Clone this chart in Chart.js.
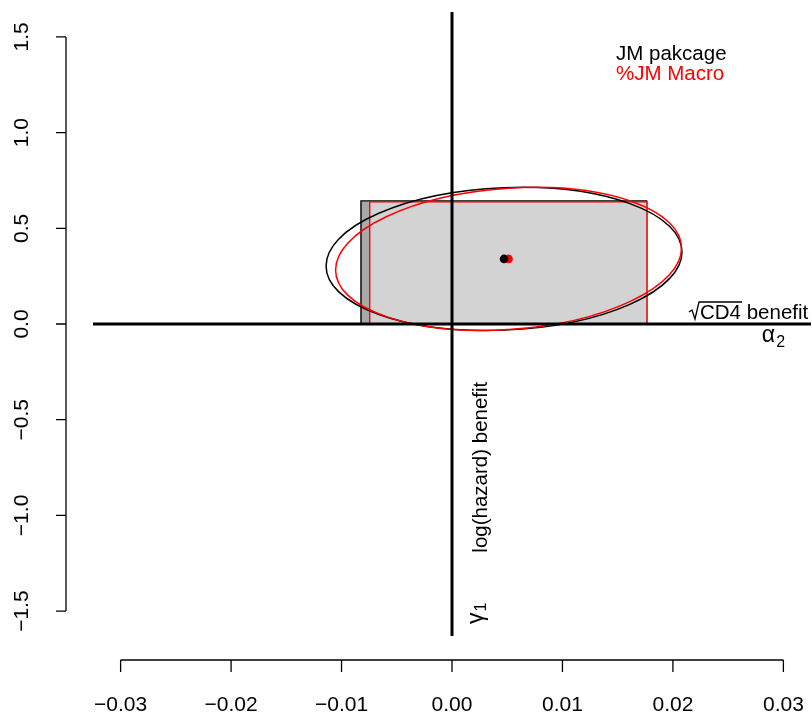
<!DOCTYPE html>
<html>
<head>
<meta charset="utf-8">
<script src="https://cdn.jsdelivr.net/npm/chart.js@4.4.1/dist/chart.umd.min.js"></script>
<style>
html,body{margin:0;padding:0;background:#fff;}
#wrap{width:812px;height:720px;position:relative;}
</style>
</head>
<body>
<div id="wrap"><canvas id="c" width="812" height="720"></canvas></div>
<script>
// ---- data ----
const xTicks = [-0.03, -0.02, -0.01, 0, 0.01, 0.02, 0.03];
const xTickLabels = ["\u22120.03", "\u22120.02", "\u22120.01", "0.00", "0.01", "0.02", "0.03"];
const yTicks = [-1.5, -1.0, -0.5, 0, 0.5, 1.0, 1.5];
const yTickLabels = ["\u22121.5", "\u22121.0", "\u22120.5", "0.0", "0.5", "1.0", "1.5"];
const xLimits = [-0.0325, 0.0325];
const yLimits = [-1.63, 1.63];
const seriesNames = ["JM pakcage", "%JM Macro"];
const estAlpha2 = [0.00471, 0.00512];
const estGamma1 = [0.340, 0.340];
const rectLeft = [-0.00824, -0.00745];
const rectRight = [0.01762, 0.01765];
const rectTop = [0.643, 0.638];
// ellipse conjugate semi-axes (data units): a = (ellAx, ellAy), b = (0, ellBy)
const ellAx = [0.01611, 0.01566];
const ellAy = [0.0366, 0.0575];
const ellBy = [0.372, 0.369];
const xLabelParts = ["CD4", "benefit"];
const yLabelText = "log(hazard) benefit";

// ---- styles ----
const FONT = '"Liberation Sans", Arial, Helvetica, sans-serif';
const fnt = px => px + 'px ' + FONT;
const seriesColors = ['#000000', '#FF0000'];
const rectFills = ['#A9A9A9', '#D3D3D3'];

function rectData(i) {
  return [
    {x: rectLeft[i], y: 0},
    {x: rectLeft[i], y: rectTop[i]},
    {x: rectRight[i], y: rectTop[i]},
    {x: rectRight[i], y: 0}
  ];
}

const RED_RECT_INDEX = 1;
const datasets = [
  {label: 'rect0', data: rectData(0), showLine: true, fill: 'origin', backgroundColor: rectFills[0],
   borderColor: seriesColors[0], borderWidth: 1.4, pointRadius: 0, tension: 0, order: 9},
  {label: 'rect1', data: rectData(1), showLine: true, fill: 'origin', backgroundColor: rectFills[1],
   borderColor: seriesColors[1], borderWidth: 1.4, pointRadius: 0, tension: 0, order: 8},
  {label: 'hline', data: [{x: xLimits[0], y: 0}, {x: xLimits[1], y: 0}], showLine: true, fill: false,
   borderColor: '#000', borderWidth: 3, pointRadius: 0, order: 5},
  {label: 'vline', data: [{x: 0, y: yLimits[0]}, {x: 0, y: yLimits[1]}], showLine: true, fill: false,
   borderColor: '#000', borderWidth: 3, pointRadius: 0, order: 5},
  {label: seriesNames[1], data: [{x: estAlpha2[1], y: estGamma1[1]}], showLine: false,
   pointRadius: 4.3, pointBackgroundColor: seriesColors[1], pointBorderWidth: 0, order: 2},
  {label: seriesNames[0], data: [{x: estAlpha2[0], y: estGamma1[0]}], showLine: false,
   pointRadius: 4.3, pointBackgroundColor: seriesColors[0], pointBorderWidth: 0, order: 1}
];

const ellipsePlugin = {
  id: 'ellipses',
  afterDatasetDraw(chart, args) {
    if (args.index !== RED_RECT_INDEX) return;
    const ctx = chart.ctx, xs = chart.scales.x, ys = chart.scales.y;
    for (let i = 0; i < 2; i++) {
      const cx = xs.getPixelForValue(estAlpha2[i]);
      const cy = ys.getPixelForValue(estGamma1[i]);
      const ax = xs.getPixelForValue(estAlpha2[i] + ellAx[i]) - cx;
      const ay = ys.getPixelForValue(estGamma1[i] + ellAy[i]) - cy;
      const by = ys.getPixelForValue(estGamma1[i] + ellBy[i]) - cy;
      ctx.save();
      ctx.beginPath();
      ctx.save();
      ctx.transform(ax, ay, 0, by, cx, cy);
      ctx.arc(0, 0, 1, 0, Math.PI * 2);
      ctx.restore();
      ctx.lineWidth = 1.5;
      ctx.strokeStyle = seriesColors[i];
      ctx.stroke();
      ctx.restore();
    }
  }
};

const axesPlugin = {
  id: 'rAxes',
  afterDraw(chart) {
    const ctx = chart.ctx, ca = chart.chartArea, xs = chart.scales.x, ys = chart.scales.y;
    ctx.save();
    ctx.strokeStyle = '#000';
    ctx.fillStyle = '#000';
    ctx.lineWidth = 1.3;
    // bottom axis
    const axY = ca.bottom + 24;
    ctx.beginPath();
    ctx.moveTo(xs.getPixelForValue(xTicks[0]), axY);
    ctx.lineTo(xs.getPixelForValue(xTicks[xTicks.length - 1]), axY);
    xTicks.forEach(v => {
      const p = xs.getPixelForValue(v);
      ctx.moveTo(p, axY);
      ctx.lineTo(p, axY + 12);
    });
    ctx.stroke();
    ctx.font = fnt(21);
    ctx.textAlign = 'center';
    ctx.textBaseline = 'middle';
    xTicks.forEach((v, i) => ctx.fillText(xTickLabels[i], xs.getPixelForValue(v), axY + 45));
    // left axis
    const axX = ca.left - 27;
    ctx.beginPath();
    ctx.moveTo(axX, ys.getPixelForValue(yTicks[0]));
    ctx.lineTo(axX, ys.getPixelForValue(yTicks[yTicks.length - 1]));
    yTicks.forEach(v => {
      const p = ys.getPixelForValue(v);
      ctx.moveTo(axX, p);
      ctx.lineTo(axX - 10, p);
    });
    ctx.stroke();
    yTicks.forEach((v, i) => {
      ctx.save();
      ctx.translate(axX - 44, ys.getPixelForValue(v));
      ctx.rotate(-Math.PI / 2);
      ctx.fillText(yTickLabels[i], 0, 0);
      ctx.restore();
    });
    ctx.restore();
  }
};

const textPlugin = {
  id: 'rText',
  afterDraw(chart) {
    const ctx = chart.ctx, xs = chart.scales.x, ys = chart.scales.y;
    ctx.save();
    ctx.font = fnt(20.5);
    ctx.textBaseline = 'alphabetic';
    // legend
    ctx.textAlign = 'left';
    const lx = xs.getPixelForValue(0.01485);
    ctx.fillStyle = seriesColors[0];
    ctx.fillText(seriesNames[0], lx, ys.getPixelForValue(1.381));
    ctx.fillStyle = seriesColors[1];
    ctx.fillText(seriesNames[1], lx, ys.getPixelForValue(1.277));
    // sqrt(CD4) benefit
    ctx.fillStyle = '#000';
    ctx.strokeStyle = '#000';
    const xr = xs.getPixelForValue(0.03225);
    const bl = ys.getPixelForValue(0.026);
    ctx.textAlign = 'right';
    ctx.fillText(xLabelParts[1], xr, bl);
    const wBen = ctx.measureText(xLabelParts[1]).width;
    const wSp = ctx.measureText(' ').width;
    const cdRight = xr - wBen - wSp;
    ctx.fillText(xLabelParts[0], cdRight, bl);
    const wCD = ctx.measureText(xLabelParts[0]).width;
    const cdLeft = cdRight - wCD;
    // radical sign and overline
    ctx.lineWidth = 1.3;
    ctx.beginPath();
    const topY = bl - 17;
    ctx.moveTo(cdLeft - 11, bl - 7);
    ctx.lineTo(cdLeft - 8, bl - 9);
    ctx.lineTo(cdLeft - 5, bl);
    ctx.lineTo(cdLeft - 1, topY);
    ctx.lineTo(cdRight + 1, topY);
    ctx.stroke();
    // alpha_2
    ctx.textAlign = 'left';
    const ax = xs.getPixelForValue(0.02805);
    const abl = ys.getPixelForValue(-0.095);
    ctx.font = fnt(23);
    ctx.fillText('\u03B1', ax, abl);
    const wA = ctx.measureText('\u03B1').width;
    ctx.font = fnt(16);
    ctx.fillText('2', ax + wA + 1, abl + 5);
    // vertical label
    ctx.font = fnt(20.5);
    ctx.save();
    ctx.translate(xs.getPixelForValue(0.00262), ys.getPixelForValue(-0.748));
    ctx.rotate(-Math.PI / 2);
    ctx.textAlign = 'center';
    ctx.textBaseline = 'middle';
    ctx.fillText(yLabelText, 0, 0);
    ctx.restore();
    // gamma_1
    ctx.save();
    ctx.translate(xs.getPixelForValue(0.00235), ys.getPixelForValue(-1.505));
    ctx.rotate(-Math.PI / 2);
    ctx.textAlign = 'left';
    ctx.textBaseline = 'middle';
    ctx.font = fnt(23);
    const wG = ctx.measureText('\u03B3').width;
    ctx.fillText('\u03B3', -12, -1);
    ctx.font = fnt(16);
    ctx.fillText('1', -12 + wG + 1, 4);
    ctx.restore();
    ctx.restore();
  }
};

new Chart(document.getElementById('c'), {
  type: 'line',
  data: {datasets},
  options: {
    responsive: false,
    animation: false,
    devicePixelRatio: 1,
    events: [],
    layout: {autoPadding: false, padding: {left: 93, right: 1, top: 12, bottom: 84}},
    scales: {
      x: {type: 'linear', min: xLimits[0], max: xLimits[1], display: false},
      y: {type: 'linear', min: yLimits[0], max: yLimits[1], display: false}
    },
    plugins: {legend: {display: false}, tooltip: {enabled: false}}
  },
  plugins: [ellipsePlugin, axesPlugin, textPlugin]
});
</script>
</body>
</html>
